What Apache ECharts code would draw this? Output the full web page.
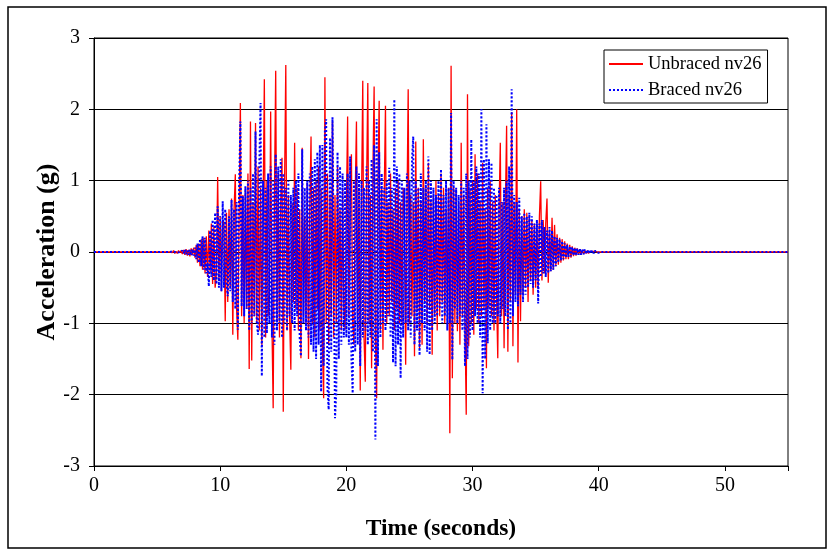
<!DOCTYPE html>
<html>
<head>
<meta charset="utf-8">
<script src="https://cdn.jsdelivr.net/npm/echarts@6/dist/echarts.min.js"></script>
<style>html,body{margin:0;padding:0;background:#fff;}#chart{width:831px;height:553px;}</style>
</head>
<body>
<div id="chart"></div>
<script>
// Time axis: values below start at t0 and are spaced dt seconds apart
const t0 = 6.0;
const dt = 0.1;
const seriesNames = ['Unbraced nv26', 'Braced nv26'];
const xTicks = [0, 10, 20, 30, 40, 50];
const yTicks = [-3, -2, -1, 0, 1, 2, 3];
const quietStart = [[0, 0]];
const quietEnd = [[55, 0]];

const unbracedValues = [
  0, 0.01, -0.01, 0.02, -0.02, 0.01, -0.02, 0.02, -0.01, 0.02,
  -0.03, 0.03, -0.04, 0.04, -0.05, 0.03, -0.06, 0.05, -0.04, 0.06,
  -0.08, 0.1, -0.15, 0.12, -0.2, 0.18, -0.25, 0.2, -0.3, 0.22,
  -0.35, 0.3, -0.28, 0.4, -0.45, 0.35, -0.5, -0.3, 1.05, -0.4,
  0.5, -0.55, 0.45, 0.4, -0.97, 0.55, -0.7, 0.6, -0.5, 0.75,
  -1.16, 0.6, 1.09, -0.8, -1.23, 0.5, 2.09, -0.9, 0.8, -1.0,
  0.9, -0.8, 1.1, -1.64, 1.83, -1.52, 0.7, -0.9, 1.81, -1.0,
  1.2, -1.1, 0.9, -1.3, 0.6, 2.42, -1.2, 1.0, -0.9, -0.6,
  1.97, -1.0, -2.19, 0.8, 2.54, -0.95, 1.1, -1.2, 0.7, 1.32,
  -2.24, 0.9, 2.62, -1.1, 0.8, -0.9, -1.65, 0.69, -0.7, 1.53,
  -0.8, 0.9, -1.1, 0.6, -1.49, 1.46, -0.9, 0.5, -1.0, 0.97,
  -1.5, 0.6, 1.62, -1.0, 0.9, -1.2, 1.0, -0.8, 1.2, -1.1,
  0.9, -1.3, -2.05, 2.45, -1.0, 1.1, -1.3, 0.8, -0.9, 1.83,
  -1.2, 0.8, -1.0, 1.2, -0.7, 0.6, -1.1, 0.9, -0.8, -1.09,
  0.6, 1.9, -0.9, 0.7, 1.37, -1.0, -1.3, 0.8, 1.83, -1.1,
  0.9, -1.94, 0.7, 2.4, -1.2, -1.82, 0.9, 2.37, -1.0, 0.8,
  -1.63, 1.1, 2.32, -1.2, -2.05, 1.0, 2.12, -1.1, 0.9, -1.37,
  0.8, 2.05, -1.0, 0.7, -0.9, 1.1, -0.7, 0.6, -1.1, 0.9,
  -0.8, 1.0, -1.0, 0.7, -0.99, 0.9, 0.5, -1.58, 0.6, 2.28,
  -1.0, 0.8, -0.9, 0.7, -1.46, 1.55, -0.8, 0.9, -1.35, 0.7,
  -1.3, 1.58, -0.7, 0.9, -1.0, 1.25, -0.8, 0.7, -1.44, 0.8,
  -0.9, 1.0, -1.1, 0.8, -0.9, 1.1, -0.7, 0.9, -1.0, 0.6,
  -0.8, 0.9, -2.54, 2.61, -1.77, 0.9, -1.0, 0.88, -1.11, 0.7,
  -1.3, 1.53, -0.9, 0.8, -1.0, -2.28, 2.21, -1.32, 0.9, -1.0,
  1.0, -1.16, 1.37, -0.8, 1.1, -1.0, 0.7, -0.9, 1.25, -0.8,
  0.6, -1.63, 0.9, -0.8, 1.0, -0.9, 0.7, -1.1, 0.8, -0.6,
  -1.49, 0.6, 1.53, -0.9, 0.7, -1.35, 0.6, 1.77, -1.4, 0.8,
  -0.7, 1.96, -1.32, 0.7, -0.6, 2.0, -1.55, 0.6, -0.97, 0.5,
  -0.6, 0.6, -0.5, 0.55, -0.7, 0.5, -0.4, 0.45, -0.6, 0.4,
  -0.5, 0.4, -0.52, 0.5, 0.99, -0.4, 0.45, -0.3, 0.4, 0.75,
  -0.43, 0.3, -0.27, 0.48, -0.25, 0.38, -0.2, 0.25, -0.18, 0.2,
  -0.15, 0.18, -0.12, 0.15, -0.1, 0.12, -0.1, 0.1, -0.08, 0.08,
  -0.06, 0.06, -0.05, 0.05, -0.04, 0.04, -0.03, 0.03, -0.03, 0.02,
  -0.02, 0.02, -0.02, 0.01, -0.01, 0.01, -0.01, 0.01, 0, 0,
  0, 0, 0, 0, 0, 0, 0, 0, 0, 0
];

const bracedValues = [
  0, 0, 0.01, -0.01, 0, 0.01, -0.01, 0.01, 0, -0.01,
  0.02, -0.02, 0.03, -0.03, 0.02, -0.04, 0.03, -0.05, 0.04, -0.05,
  0.06, -0.1, 0.12, -0.15, 0.18, -0.2, 0.22, -0.25, 0.2, -0.3,
  -0.15, -0.48, 0.3, -0.35, 0.45, -0.4, 0.55, -0.45, 0.64, -0.5,
  0.5, -0.55, 0.71, -0.5, 0.6, -0.45, -0.62, 0.5, -0.55, 0.73,
  -0.7, 0.6, -0.8, 0.7, -1.09, 0.9, 1.83, -0.76, 0.78, -0.9,
  0.92, -0.8, 1.0, -1.1, 0.9, -1.0, 1.1, -0.9, 1.69, -1.0,
  -1.16, 1.2, 2.09, -1.74, 1.0, -1.2, 0.9, -1.14, 1.1, -1.0,
  1.2, -1.2, 1.0, -1.3, 1.37, -1.1, 1.2, -1.0, 1.3, -1.2,
  1.1, -1.0, 0.9, -1.1, 1.0, -0.9, 0.8, -1.0, 0.9, -1.1,
  1.0, -0.9, 1.1, -1.2, -1.46, 1.44, -1.0, 0.9, -1.1, 1.0,
  -1.2, 1.1, -1.3, 1.2, -1.4, 1.3, -1.5, 1.4, -1.3, 1.5,
  -1.96, 1.5, -1.6, 1.7, 1.86, -1.9, -2.21, 1.6, -1.4, 1.89,
  1.9, -2.33, -1.98, 1.4, -1.5, 1.2, -1.3, 1.1, -1.2, 1.0,
  -1.2, 1.1, -1.3, 1.34, -1.5, -1.98, 1.0, -1.4, 1.2, -1.3,
  1.1, -1.6, 1.0, -1.2, 0.9, -1.1, 1.2, -1.3, 1.0, -1.2,
  1.3, -1.4, 1.5, -2.63, 1.86, -1.6, 1.4, -1.2, 1.1, -1.0,
  0.9, -1.1, 1.0, -0.9, 1.18, -1.2, 0.9, -1.55, 2.14, -1.6,
  1.2, -1.3, 1.1, -1.77, 1.0, -1.2, 0.9, -1.0, 1.1, -1.1,
  1.0, -1.2, 1.3, 1.62, -1.3, 1.0, -1.1, 0.9, -1.45, 1.1,
  -1.0, 0.9, -1.1, 1.0, -1.4, 1.34, -1.44, 1.0, -1.1, 0.9,
  -1.0, 0.8, -0.9, 1.0, -0.8, 1.16, -1.0, 0.8, -0.9, 1.0,
  -1.1, 0.9, -1.0, 1.95, -1.51, 1.0, -0.8, 0.9, -1.0, 0.8,
  -0.9, 1.0, -1.1, 0.9, -1.6, 1.1, -1.5, 1.0, -1.2, 1.58,
  -1.1, 1.0, -0.9, 1.2, -1.0, 1.1, -1.2, 2.0, -1.98, 1.3,
  -1.5, 1.79, -1.28, 1.3, -1.1, 1.25, -1.0, 0.9, -1.0, 0.8,
  -0.9, 0.9, -1.0, 0.7, -0.8, 0.9, -0.9, 1.0, -1.09, 1.2,
  -1.0, 2.28, -0.9, 0.8, -0.7, 0.7, -0.76, 0.76, -0.6, 0.5,
  -0.7, 0.55, -0.6, 0.5, -0.5, 0.55, -0.45, 0.5, -0.5, 0.4,
  -0.4, 0.45, -0.72, 0.4, -0.35, 0.45, -0.3, 0.35, -0.35, 0.3,
  -0.3, 0.35, -0.27, 0.3, -0.25, 0.22, -0.2, 0.2, -0.15, 0.18,
  -0.12, 0.15, -0.1, 0.12, -0.08, 0.1, -0.07, 0.08, -0.06, 0.07,
  -0.05, 0.06, -0.05, 0.05, -0.04, 0.05, -0.04, 0.04, -0.03, 0.04,
  -0.03, 0.03, -0.02, 0.03, -0.02, 0.02, -0.02, 0.02, -0.01, 0.01,
  -0.01, 0.01, 0, 0.01, 0, 0, 0, 0, 0, 0
];

function toPairs(values) {
  return quietStart.concat(values.map((v, i) => [Math.round((t0 + i * dt) * 100) / 100, v]), quietEnd);
}

const serif = '"Liberation Serif", "Times New Roman", serif';
const chart = echarts.init(document.getElementById('chart'), null, { renderer: 'canvas' });
chart.setOption({
  animation: false,
  backgroundColor: '#fff',
  graphic: [{
    type: 'rect', z: -1,
    shape: { x: 8, y: 7, width: 818, height: 541 },
    style: { fill: 'none', stroke: '#000', lineWidth: 1.5 }
  }],
  grid: { left: 94, top: 38, right: 43, bottom: 87, show: true, borderColor: '#000', borderWidth: 1, backgroundColor: 'transparent' },
  legend: {
    orient: 'vertical', left: 604, top: 50,
    backgroundColor: '#fff', borderColor: '#000', borderWidth: 1, borderRadius: 0,
    padding: [4, 6, 3, 4], itemGap: 6, itemWidth: 34, itemHeight: 14,
    itemStyle: { opacity: 0 },
    textStyle: { fontFamily: serif, fontSize: 18.5, color: '#000', lineHeight: 20 },
    data: seriesNames
  },
  xAxis: {
    type: 'value', min: 0, max: 55, interval: 10,
    name: 'Time (seconds)', nameLocation: 'middle', nameGap: 51,
    nameMoveOverlap: false,
    nameTextStyle: { fontFamily: serif, fontSize: 23.5, fontWeight: 'bold', color: '#000' },
    axisLine: { onZero: false, lineStyle: { color: '#000', width: 1 } },
    axisTick: { show: true, length: 5, lineStyle: { color: '#000' } },
    axisLabel: { fontFamily: serif, fontSize: 20, color: '#000', margin: 10,
      formatter: v => (xTicks.indexOf(v) >= 0 ? String(v) : '') },
    splitLine: { show: false }
  },
  yAxis: {
    type: 'value', min: -3, max: 3, interval: 1,
    name: 'Acceleration (g)', nameLocation: 'middle', nameGap: 34, nameRotate: 90,
    nameMoveOverlap: false,
    nameTextStyle: { fontFamily: serif, fontSize: 26, fontWeight: 'bold', color: '#000' },
    axisLine: { show: true, lineStyle: { color: '#000', width: 1 } },
    axisTick: { show: true, length: 5, lineStyle: { color: '#000' } },
    axisLabel: { fontFamily: serif, fontSize: 20, color: '#000', margin: 14,
      formatter: v => (yTicks.indexOf(v) >= 0 ? String(v) : '') },
    splitLine: { show: true, lineStyle: { color: '#000', width: 1 } }
  },
  series: [
    {
      name: seriesNames[0], type: 'line', data: toPairs(unbracedValues),
      showSymbol: false, symbol: 'none', z: 2,
      lineStyle: { color: '#ff0000', width: 1.3, type: 'solid' },
      itemStyle: { color: '#ff0000' }
    },
    {
      name: seriesNames[1], type: 'line', data: toPairs(bracedValues),
      showSymbol: false, symbol: 'none', z: 3,
      lineStyle: { color: '#0000ff', width: 2, type: [2, 2] },
      itemStyle: { color: '#0000ff' }
    }
  ]
});
</script>
</body>
</html>
